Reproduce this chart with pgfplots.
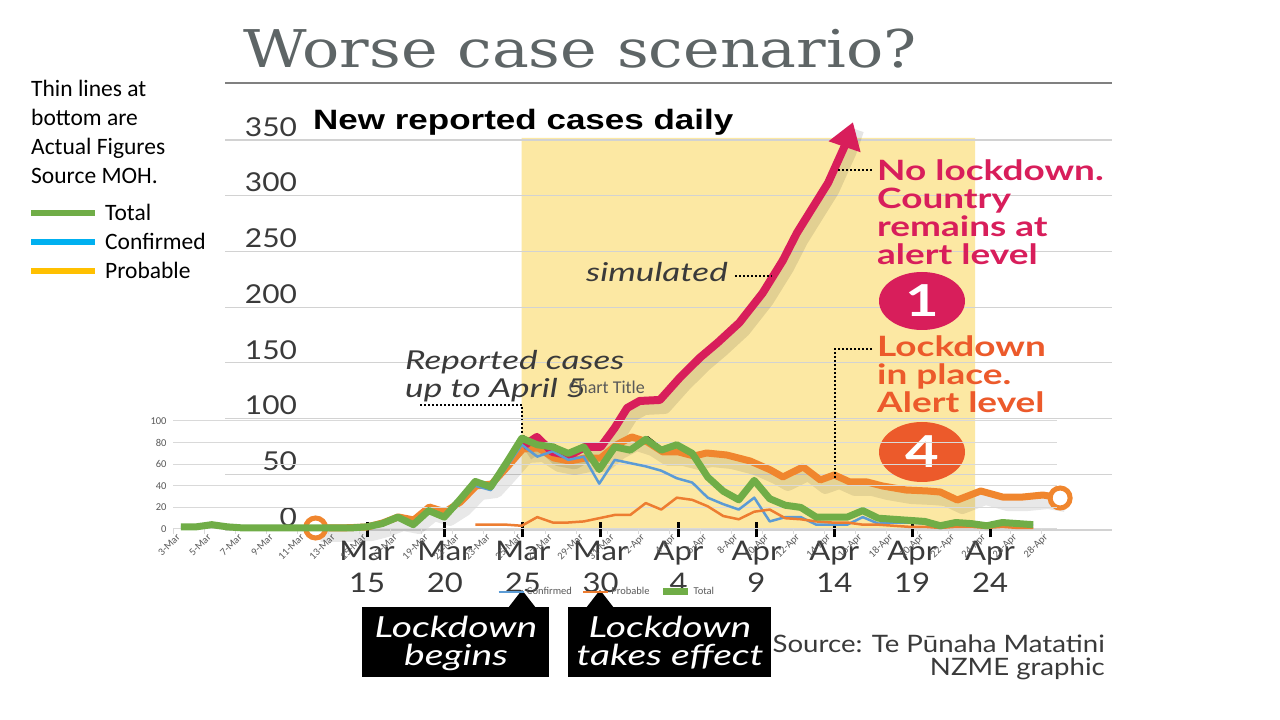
\documentclass[border=0pt]{standalone}
\usepackage{fontspec}
\usepackage{pgfplots}
\usepackage{pgfplotstable}
\pgfplotsset{compat=1.18}
\usetikzlibrary{arrows.meta}
\setmainfont{Carlito}
\newfontfamily\npfont[FakeStretch=1.15]{Lato}
\newfontfamily\npwide[FakeStretch=1.35]{Lato}
\newfontfamily\npbold[FakeStretch=1.32]{Lato Bold}
\newfontfamily\ttlfont[FakeStretch=1.19]{DejaVu Serif}
\newfontfamily\hdfont[FakeStretch=1.25]{Liberation Sans}
\newcommand\fs[2]{\fontsize{#1}{#2}\selectfont}

\definecolor{xlgrid}{HTML}{D9D9D9}
\definecolor{xltext}{HTML}{595959}
\definecolor{xlblue}{HTML}{5B9BD5}
\definecolor{xlorange}{HTML}{ED7D31}
\definecolor{xlgreen}{HTML}{70AD47}
\definecolor{npyellow}{HTML}{FCE8A3}
\definecolor{npred}{HTML}{D81E5B}
\definecolor{nporange}{HTML}{F0862E}
\definecolor{npred2}{HTML}{EC5A2B}
\definecolor{nptext}{HTML}{3A3A3A}
\definecolor{npgrid}{HTML}{D2D2D2}
\definecolor{ttlgray}{HTML}{5E6566}
\definecolor{lgblue}{HTML}{00B0F0}
\definecolor{lgyellow}{HTML}{FFC000}

% Excel overlay, actual MOH figures (x = day counted from 1 March)
\pgfplotstableread{
d v
3 2
4 2
5 4
6 2
7 1
8 1
9 1
10 1
11 1
12 1
13 1
14 1
15 2
16 5
17 11
18 4
19 17
20 11
21 27
22 44
23 39
24 61
25 84
26 78
27 76
28 70
29 76
30 55
31 76
32 73
33 83
34 73
35 78
36 70
37 48
38 35
39 27
40 45
41 28
42 22
43 20
44 11
45 11
46 11
47 17
48 10
49 9
50 8
51 7
52 3
53 6
54 5
55 3
56 6
57 5
58 4
}\totaltab

\pgfplotstableread{
d v
3 2
4 2
5 4
6 2
7 1
8 1
9 1
10 1
11 1
12 1
13 1
14 1
15 2
16 5
17 11
18 4
19 17
20 11
21 27
22 40
23 36
24 57
25 78
26 67
27 72
28 64
29 67
30 42
31 64
32 61
33 58
34 54
35 47
36 43
37 29
38 23
39 18
40 29
41 7
42 11
43 11
44 4
45 4
46 4
47 11
48 5
49 6
50 6
51 5
52 1
53 4
54 3
55 2
56 4
57 4
58 3
}\conftab

\pgfplotstableread{
d v
22 4
23 4
24 4
25 3
26 11
27 6
28 6
29 7
30 10
31 13
32 13
33 24
34 18
35 29
36 27
37 21
38 12
39 9
40 16
41 18
42 10
43 9
44 7
45 6
46 6
47 4
48 4
49 3
50 2
51 2
52 1
53 2
54 2
55 1
56 2
57 1
58 1
}\probtab

% newspaper graphic
\pgfplotstableread{
d v
12 1
15 2
16 5
17 10
18 5
19 19
20 13
21 25
22 43
23 40
24 60
25 84
26 76
27 76
28 68
29 74
30 55
31 74
32 72
33 83
34 72
35 76
36 68
}\reptab

\pgfplotstableread{
d v
11.7 1.8
13.3 1.8
15 2.7
16 6.3
17 11.7
18 9
19 20.6
20 16.2
21 25.1
22 39.5
23 41.3
24 56.6
25 72.7
26 73.6
27 64.6
28 61.9
29 64.6
30 64.6
31 76.3
32 83.5
33 79
34 70
35 70
36 66.4
36.8 69.1
38.1 67.3
39.6 61.9
40.9 53.9
41.7 47.6
43 56.6
44.1 44.9
45 49.4
46 43.1
47.1 43.1
48.1 39.5
49.6 35.9
51 35
51.8 34.1
52.9 26.9
54.4 35
55.8 29.6
57.1 29.6
58.4 31.4
59.5 28.7
}\locktab

\pgfplotstableread{
d v
25 75
25.9 83.5
26.9 70
28 67
29 74.5
30 74.5
30.9 91.6
31.7 109.5
32.5 115.8
33.8 116.7
35.1 137
36.4 155
37.5 168
38.9 186
40.4 212.7
41.7 242
42.6 266.6
43.4 284.6
44.6 311.5
45.7 345.6
46.2 366
}\simtab

\begin{document}
\begin{tikzpicture}
\fill[white] (0,0) rectangle (1280pt,720pt);

% yellow band of the newspaper graphic
\begin{axis}[at={(225pt,190pt)}, anchor=south west, scale only axis,
  width=887pt, height=390pt, xmin=5.88, xmax=62.83, ymin=0, ymax=350,
  hide axis, clip=false]
\addplot[fill=npyellow, draw=none] coordinates {(24.93,0) (54.04,0) (54.04,352) (24.93,352) (24.93,0)};
\end{axis}

% newspaper graphic
\begin{axis}[at={(225pt,190pt)}, anchor=south west, scale only axis,
  width=887pt, height=390pt, xmin=5.88, xmax=62.83, ymin=0, ymax=350,
  clip=false,
  axis x line*=bottom, axis y line*=left, axis line style={draw=none},
  ytick={0,50,...,350}, yticklabels={0,50,100,150,200,250,300,350},
  ymajorgrids, major grid style={npgrid, line width=1.2pt},
  ytick style={draw=none},
  yticklabel style={anchor=south east, xshift=83pt, yshift=0pt,
    font={\npfont\fs{26}{26}}, text=nptext},
  xtick={15,20,...,55},
  xticklabels={Mar\\15,Mar\\20,Mar\\25,Mar\\30,Apr\\4,Apr\\9,Apr\\14,Apr\\19,Apr\\24},
  xtick style={black, line width=3pt}, major tick length=15pt, tick align=center,
  xticklabel style={align=center, font={\npfont\fs{27}{32}}, text=nptext},
]
\addplot[black, line width=3pt, line join=round] table[x=d,y=v] {\reptab};
\addplot[black, opacity=0.09, line width=12pt, line join=round, xshift=5pt, yshift=-8pt] table[x=d,y=v] {\locktab};
\addplot[black, opacity=0.1, line width=12pt, line join=round, xshift=5pt, yshift=-8pt] table[x=d,y=v] {\simtab};
\addplot[nporange, line width=7pt, line join=round] table[x=d,y=v] {\locktab};
\addplot[npred, line width=8pt, line join=round, -{Triangle[length=26pt, width=32pt]}] table[x=d,y=v] {\simtab};
\addplot[only marks, mark=*, mark size=10pt, mark options={fill=white, draw=nporange, line width=5pt}]
  coordinates {(11.7,1.8) (59.5,28.7)};
\end{axis}

% annotations, in image pixel coordinates
\begin{scope}[x=1pt, y=-1pt, yshift=720pt]
\node[anchor=base west, inner sep=0, font={\ttlfont\fs{52}{52}}, text=ttlgray] at (243,68) {Worse case scenario?};
\draw[gray, line width=2pt] (225,83) -- (1112,83);
\node[anchor=base west, inner sep=0, font={\hdfont\bfseries\fs{28}{28}}] at (313,130) {New reported cases daily};

\node[anchor=base east, inner sep=0, font={\npwide\itshape\fs{26}{26}}, text=nptext] at (728,282) {simulated};
\draw[black, line width=2pt, dash pattern=on 2pt off 2pt] (735,276) -- (772,276);
\node[anchor=base west, inner sep=0, font={\npwide\itshape\fs{26}{26}}, text=nptext] at (405,370) {Reported cases};
\node[anchor=base west, inner sep=0, font={\npwide\itshape\fs{26}{26}}, text=nptext] at (405,398) {up to April 5};
\draw[black, line width=2pt, dash pattern=on 2pt off 2pt] (420,405) -- (522,405) -- (522,437);

\foreach \t/\y in {No lockdown./181, Country/209, remains at/237, alert level/265}
  \node[anchor=base west, inner sep=0, font={\npbold\fs{28}{28}}, text=npred] at (877,\y) {\t};
\draw[black, line width=2pt, dash pattern=on 2pt off 2pt] (838,170) -- (872,170);
\fill[npred] (922,301) ellipse [x radius=43pt, y radius=29pt];
\node[white, font={\npbold\fs{44}{44}}] at (922,301) {1};

\foreach \t/\y in {Lockdown/357, in place./385, Alert level/413}
  \node[anchor=base west, inner sep=0, font={\npbold\fs{28}{28}}, text=npred2] at (877,\y) {\t};
\draw[black, line width=2pt, dash pattern=on 2pt off 2pt] (872,349) -- (835,349) -- (835,478);
\fill[npred2] (922,452) ellipse [x radius=43pt, y radius=30pt];
\node[white, font={\npbold\fs{44}{44}}] at (922,452) {4};

\fill[black] (362,607) rectangle (549,677);
\fill[black] (508,608) -- (522,590) -- (536,608) -- cycle;
\fill[black] (568,607) rectangle (771,677);
\fill[black] (586,608) -- (600,590) -- (614,608) -- cycle;
\node[anchor=base, inner sep=0, white, font={\npwide\itshape\fs{29}{29}}] at (456,638) {Lockdown};
\node[anchor=base, inner sep=0, white, font={\npwide\itshape\fs{29}{29}}] at (456,666) {begins};
\node[anchor=base, inner sep=0, white, font={\npwide\itshape\fs{29}{29}}] at (670,638) {Lockdown};
\node[anchor=base, inner sep=0, white, font={\npwide\itshape\fs{29}{29}}] at (670,666) {takes effect};
\node[anchor=base east, inner sep=0, text=nptext, font={\npfont\fs{24}{24}}] at (1105,653) {Source: Te Pūnaha Matatini};
\node[anchor=base east, inner sep=0, text=nptext, font={\npfont\fs{24}{24}}] at (1105,676) {NZME graphic};

% note and key on the left
\foreach \t/\y in {Thin lines at/97, bottom are/126, Actual Figures/155, Source MOH./184}
  \node[anchor=base west, inner sep=0, font=\fs{23.5}{23.5}] at (31,\y) {\t};
\draw[xlgreen, line width=6pt] (31,213) -- (95,213);
\draw[lgblue, line width=6pt] (31,242) -- (95,242);
\draw[lgyellow, line width=6pt] (31,271) -- (95,271);
\node[anchor=base west, inner sep=0, font=\fs{23.5}{23.5}] at (105,221) {Total};
\node[anchor=base west, inner sep=0, font=\fs{23.5}{23.5}] at (105,250) {Confirmed};
\node[anchor=base west, inner sep=0, font=\fs{23.5}{23.5}] at (105,279) {Probable};
\end{scope}

% Excel chart laid over the graphic
\begin{axis}[at={(173pt,191pt)}, anchor=south west, scale only axis,
  width=883.5pt, height=108pt, xmin=2.5, xmax=59.5, ymin=0, ymax=100,
  clip=false,
  axis x line*=bottom, axis y line*=left,
  y axis line style={draw=none}, x axis line style={xlgrid, line width=1pt},
  ytick={0,20,...,100}, ymajorgrids, major grid style={xlgrid, line width=1pt},
  ytick style={draw=none},
  /pgf/number format/assume math mode=true,
  yticklabel style={font=\fs{10.5}{12}, text=xltext, xshift=-3pt},
  xtick={3,5,...,59},
  xticklabels={3-Mar,5-Mar,7-Mar,9-Mar,11-Mar,13-Mar,15-Mar,17-Mar,19-Mar,21-Mar,23-Mar,25-Mar,27-Mar,29-Mar,31-Mar,2-Apr,4-Apr,6-Apr,8-Apr,10-Apr,12-Apr,14-Apr,16-Apr,18-Apr,20-Apr,22-Apr,24-Apr,26-Apr,28-Apr},
  major x tick style={draw=none},
  minor xtick={2.5,4.5,...,58.5}, minor x tick style={xlgrid, line width=1pt},
  minor tick length=5pt, xtick align=outside,
  xticklabel style={rotate=45, anchor=east, font=\fs{10.5}{12}, text=xltext},
  title=Chart Title,
  title style={at={(0.491,1.259)}, anchor=center, font=\fs{18}{20}, text=xltext},
  legend columns=3,
  legend style={at={(0.491,-0.583)}, anchor=center, draw=none, fill=none,
    font=\fs{10.5}{12}, text=xltext,
    /tikz/every even column/.append style={column sep=8pt}},
  legend image code/.code={\draw[#1] (0pt,0pt) -- (25pt,0pt);},
]
\addplot[xlblue, line width=2.5pt, line join=round] table[x=d,y=v] {\conftab};
\addplot[xlorange, line width=2.5pt, line join=round] table[x=d,y=v] {\probtab};
\addplot[xlgreen, line width=7pt, line join=round] table[x=d,y=v] {\totaltab};
\legend{Confirmed, Probable, Total}
\end{axis}

\pgfresetboundingbox
\path (0,0) rectangle (1280pt,720pt);
\end{tikzpicture}
\end{document}
